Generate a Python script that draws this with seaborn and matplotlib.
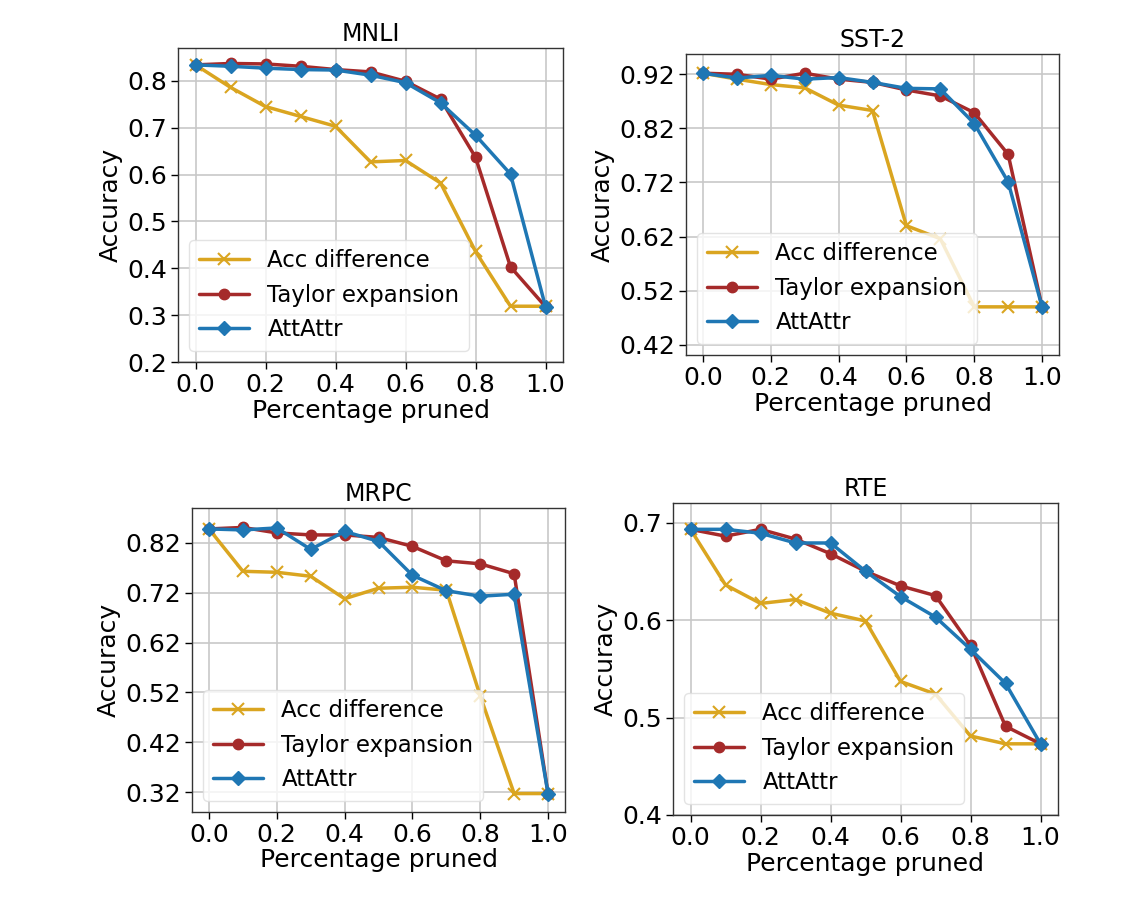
import matplotlib
matplotlib.use("Agg")
import matplotlib.pyplot as plt
import seaborn as sns
import pandas as pd
import numpy as np

pruned = [0.0, 0.1, 0.2, 0.3, 0.4, 0.5, 0.6, 0.7, 0.8, 0.9, 1.0]
methods = ["Acc difference", "Taylor expansion", "AttAttr"]

mnli_acc = [0.834, 0.786, 0.745, 0.724, 0.703, 0.627, 0.630, 0.582, 0.436, 0.319, 0.319]
mnli_taylor = [0.834, 0.837, 0.836, 0.831, 0.824, 0.819, 0.799, 0.761, 0.637, 0.403, 0.318]
mnli_att = [0.834, 0.831, 0.827, 0.824, 0.823, 0.812, 0.796, 0.753, 0.684, 0.601, 0.318]

sst_acc = [0.922, 0.911, 0.901, 0.895, 0.863, 0.853, 0.640, 0.616, 0.490, 0.490, 0.490]
sst_taylor = [0.922, 0.920, 0.911, 0.922, 0.911, 0.905, 0.891, 0.880, 0.849, 0.772, 0.490]
sst_att = [0.922, 0.913, 0.918, 0.911, 0.914, 0.905, 0.894, 0.893, 0.829, 0.721, 0.490]

mrpc_acc = [0.848, 0.763, 0.761, 0.753, 0.708, 0.729, 0.731, 0.725, 0.513, 0.317, 0.317]
mrpc_taylor = [0.848, 0.851, 0.840, 0.836, 0.836, 0.831, 0.813, 0.784, 0.778, 0.758, 0.317]
mrpc_att = [0.848, 0.846, 0.850, 0.807, 0.843, 0.823, 0.755, 0.724, 0.713, 0.717, 0.317]

rte_acc = [0.693, 0.636, 0.617, 0.621, 0.607, 0.599, 0.537, 0.524, 0.481, 0.473, 0.473]
rte_taylor = [0.693, 0.686, 0.693, 0.683, 0.668, 0.650, 0.635, 0.625, 0.574, 0.491, 0.473]
rte_att = [0.693, 0.693, 0.689, 0.679, 0.679, 0.650, 0.624, 0.603, 0.570, 0.535, 0.473]

titles = ["MNLI", "SST-2", "MRPC", "RTE"]
yticks_list = [
    [0.2, 0.3, 0.4, 0.5, 0.6, 0.7, 0.8],
    [0.42, 0.52, 0.62, 0.72, 0.82, 0.92],
    [0.32, 0.42, 0.52, 0.62, 0.72, 0.82],
    [0.4, 0.5, 0.6, 0.7],
]
ytick_labels = [
    ["0.2", "0.3", "0.4", "0.5", "0.6", "0.7", "0.8"],
    ["0.42", "0.52", "0.62", "0.72", "0.82", "0.92"],
    ["0.32", "0.42", "0.52", "0.62", "0.72", "0.82"],
    ["0.4", "0.5", "0.6", "0.7"],
]
xticks = [0.0, 0.2, 0.4, 0.6, 0.8, 1.0]
xtick_labels = ["0.0", "0.2", "0.4", "0.6", "0.8", "1.0"]

data = {
    "MNLI": [mnli_acc, mnli_taylor, mnli_att],
    "SST-2": [sst_acc, sst_taylor, sst_att],
    "MRPC": [mrpc_acc, mrpc_taylor, mrpc_att],
    "RTE": [rte_acc, rte_taylor, rte_att],
}

sns.set_style("ticks")
plt.rcParams["font.family"] = ["DejaVu Sans"]
plt.rcParams["text.color"] = "black"
plt.rcParams["axes.labelcolor"] = "black"
plt.rcParams["xtick.color"] = "black"
plt.rcParams["ytick.color"] = "black"

W, H = 1136, 918
fig = plt.figure(figsize=(W / 100, H / 100), dpi=100)

# pixel boxes (left, top, right, bottom)
boxes = [
    (178, 48, 563, 362),
    (686, 54, 1059, 355),
    (192, 508, 565, 812),
    (673, 503, 1058, 815),
]
ylims = [(0.2, 0.870), (0.401, 0.9575), (0.28, 0.890), (0.4, 0.72)]

colors = ["#DAA520", "#A52A2A", "#1f77b4"]
markers = ["x", "o", "D"]
msizes = [9, 7.5, 7.5]

for i, t in enumerate(titles):
    l, tp, r, b = boxes[i]
    ax = fig.add_axes([l / W, 1 - b / H, (r - l) / W, (b - tp) / H])
    rows = []
    for m, vals in zip(methods, data[t]):
        for x, v in zip(pruned, vals):
            rows.append({"Percentage pruned": x, "Accuracy": v, "Method": m})
    df = pd.DataFrame(rows)
    for j, m in enumerate(methods):
        sub = df[df["Method"] == m]
        sns.lineplot(data=sub, x="Percentage pruned", y="Accuracy", ax=ax,
                     color=colors[j], marker=markers[j], markersize=msizes[j],
                     markeredgecolor=colors[j], markeredgewidth=1.5 if j == 0 else 1,
                     linewidth=2.5, label=m, errorbar=None)
    ax.set_xlim(-0.05, 1.05)
    ax.set_ylim(*ylims[i])
    ax.set_xticks(xticks)
    ax.set_xticklabels(xtick_labels, fontsize=18)
    ax.set_yticks(yticks_list[i])
    ax.set_yticklabels(ytick_labels[i], fontsize=18)
    ax.grid(True, color="#c8c8c8", linewidth=1.2)
    ax.set_axisbelow(True)
    ax.set_title(t, fontsize=17, pad=5)
    ax.set_xlabel("Percentage pruned", fontsize=18, labelpad=1)
    ax.set_ylabel("Accuracy", fontsize=18, labelpad=3)
    ax.tick_params(length=5, width=1, direction="out", pad=3)
    for s in ax.spines.values():
        s.set_color("#333333")
        s.set_linewidth(1.0)
    leg = ax.legend(loc="lower left", fontsize=16.5, framealpha=0.8,
                    handlelength=2.2, borderpad=0.4, labelspacing=0.5)
    leg.get_frame().set_edgecolor("#dddddd")

fig.savefig("out.png", dpi=100)
